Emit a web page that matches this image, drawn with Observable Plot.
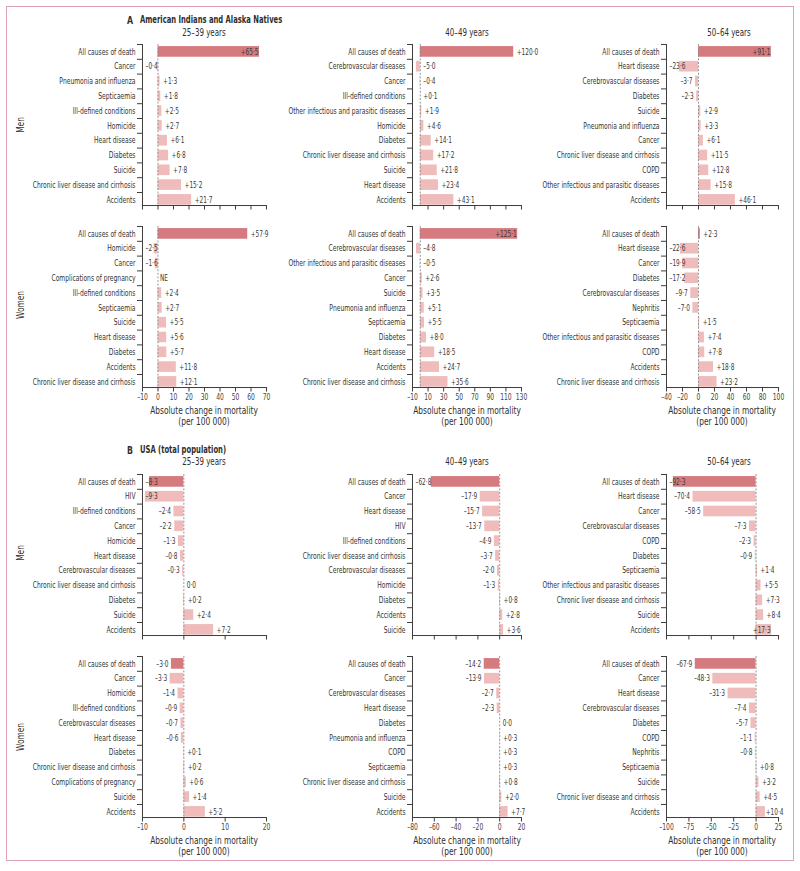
<!DOCTYPE html>
<html>
<head>
<meta charset="utf-8">
<script src="https://cdn.jsdelivr.net/npm/d3@7"></script>
<script src="https://cdn.jsdelivr.net/npm/@observablehq/plot@0.6"></script>
<style>
  html, body { margin: 0; padding: 0; background: #fff; }
  #root { position: relative; width: 800px; height: 871px; overflow: hidden; background: #fff; }
  .border { position: absolute; left: 6px; top: 6px; width: 788px; height: 855px; border: 1px solid #dca0b8; box-sizing: border-box; }
  .t { position: absolute; white-space: nowrap; color: #2f2f2f; line-height: 1; }
</style>
</head>
<body>
<div id="root"><div class="border"></div></div>
<script>
// ---------------- DATA ----------------
const sectionTitles = ["American Indians and Alaska Natives", "USA (total population)"];
const sectionLetters = ["A", "B"];
const ageGroups = ["25–39 years", "40–49 years", "50–64 years"];
const sexes = ["Men", "Women"];
const axisTitle = ["Absolute change in mortality", "(per 100 000)"];

// A: American Indians and Alaska Natives — Men
const aianMen2539Causes = ["All causes of death","Cancer","Pneumonia and influenza","Septicaemia","Ill-defined conditions","Homicide","Heart disease","Diabetes","Suicide","Chronic liver disease and cirrhosis","Accidents"];
const aianMen2539Values = [65.5,-0.4,1.3,1.8,2.5,2.7,6.1,6.8,7.8,15.2,21.7];
const aianMen4049Causes = ["All causes of death","Cerebrovascular diseases","Cancer","Ill-defined conditions","Other infectious and parasitic diseases","Homicide","Diabetes","Chronic liver disease and cirrhosis","Suicide","Heart disease","Accidents"];
const aianMen4049Values = [120.0,-5.0,-0.4,0.1,1.9,4.6,14.1,17.2,21.8,23.4,43.1];
const aianMen5064Causes = ["All causes of death","Heart disease","Cerebrovascular diseases","Diabetes","Suicide","Pneumonia and influenza","Cancer","Chronic liver disease and cirrhosis","COPD","Other infectious and parasitic diseases","Accidents"];
const aianMen5064Values = [91.1,-23.6,-3.7,-2.3,2.9,3.3,6.1,11.5,12.8,15.8,46.1];
// A — Women
const aianWomen2539Causes = ["All causes of death","Homicide","Cancer","Complications of pregnancy","Ill-defined conditions","Septicaemia","Suicide","Heart disease","Diabetes","Accidents","Chronic liver disease and cirrhosis"];
const aianWomen2539Values = [57.9,-2.5,-1.6,null,2.4,2.7,5.5,5.6,5.7,11.8,12.1];
const aianWomen4049Causes = ["All causes of death","Cerebrovascular diseases","Other infectious and parasitic diseases","Cancer","Suicide","Pneumonia and influenza","Septicaemia","Diabetes","Heart disease","Accidents","Chronic liver disease and cirrhosis"];
const aianWomen4049Values = [125.1,-4.8,-0.5,2.6,3.5,5.1,5.5,8.0,18.5,24.7,35.6];
const aianWomen5064Causes = ["All causes of death","Heart disease","Cancer","Diabetes","Cerebrovascular diseases","Nephritis","Septicaemia","Other infectious and parasitic diseases","COPD","Accidents","Chronic liver disease and cirrhosis"];
const aianWomen5064Values = [2.3,-22.6,-19.9,-17.2,-9.7,-7.0,1.5,7.4,7.8,18.8,23.2];

// B: USA (total population) — Men
const usaMen2539Causes = ["All causes of death","HIV","Ill-defined conditions","Cancer","Homicide","Heart disease","Cerebrovascular diseases","Chronic liver disease and cirrhosis","Diabetes","Suicide","Accidents"];
const usaMen2539Values = [-8.3,-9.3,-2.4,-2.2,-1.3,-0.8,-0.3,0.0,0.2,2.4,7.2];
const usaMen4049Causes = ["All causes of death","Cancer","Heart disease","HIV","Ill-defined conditions","Chronic liver disease and cirrhosis","Cerebrovascular diseases","Homicide","Diabetes","Accidents","Suicide"];
const usaMen4049Values = [-62.8,-17.9,-15.7,-13.7,-4.9,-3.7,-2.0,-1.3,0.8,2.8,3.6];
const usaMen5064Causes = ["All causes of death","Heart disease","Cancer","Cerebrovascular diseases","COPD","Diabetes","Septicaemia","Other infectious and parasitic diseases","Chronic liver disease and cirrhosis","Suicide","Accidents"];
const usaMen5064Values = [-92.3,-70.4,-58.5,-7.3,-2.3,-0.9,1.4,5.5,7.3,8.4,17.3];
// B — Women
const usaWomen2539Causes = ["All causes of death","Cancer","Homicide","Ill-defined conditions","Cerebrovascular diseases","Heart disease","Diabetes","Chronic liver disease and cirrhosis","Complications of pregnancy","Suicide","Accidents"];
const usaWomen2539Values = [-3.0,-3.3,-1.4,-0.9,-0.7,-0.6,0.1,0.2,0.6,1.4,5.2];
const usaWomen4049Causes = ["All causes of death","Cancer","Cerebrovascular diseases","Heart disease","Diabetes","Pneumonia and influenza","COPD","Septicaemia","Chronic liver disease and cirrhosis","Suicide","Accidents"];
const usaWomen4049Values = [-14.2,-13.9,-2.7,-2.3,0.0,0.3,0.3,0.3,0.8,2.0,7.7];
const usaWomen5064Causes = ["All causes of death","Cancer","Heart disease","Cerebrovascular diseases","Diabetes","COPD","Nephritis","Septicaemia","Suicide","Chronic liver disease and cirrhosis","Accidents"];
const usaWomen5064Values = [-67.9,-48.3,-31.3,-7.4,-5.7,-1.1,-0.8,0.8,3.2,4.5,10.4];

// x-axis ticks per column
const ticksAian2539 = [-10,0,10,20,30,40,50,60,70];
const ticksAian4049 = [-10,10,30,50,70,90,110,130];
const ticksAian5064 = [-40,-20,0,20,40,60,80,100];
const ticksUsa2539 = [-10,0,10,20];
const ticksUsa4049 = [-80,-60,-40,-20,0,20];
const ticksUsa5064 = [-100,-75,-50,-25,0,25];

// ---------------- STYLE / LAYOUT ----------------
const DARK = "#d57b7f", LIGHT = "#efbcbb", AXIS = "#3c3c3c", ZERO = "#8c8c8c";
const LABEL_SIZE = 8.2;
const root = document.getElementById("root");

function hasFont(name) {
  const ctx = document.createElement("canvas").getContext("2d");
  const s = "abcdefghijklmnopqrstuvwxyzABCDEFGHIJKLMNOP0123456789";
  let res = false;
  for (const fb of ["monospace", "serif"]) {
    ctx.font = `20px ${fb}`; const a = ctx.measureText(s).width;
    ctx.font = `20px "${name}", ${fb}`; const b = ctx.measureText(s).width;
    if (Math.abs(a - b) > 0.5) res = true;
  }
  return res;
}
const FONT_NAME = ["Liberation Sans Narrow", "DejaVu Sans Condensed", "Roboto Condensed", "Liberation Sans", "Arial", "DejaVu Sans"].find(hasFont) || "sans-serif";
const FONT = `"${FONT_NAME}", sans-serif`;
const measureCtx = document.createElement("canvas").getContext("2d");
const f = (() => {
  measureCtx.font = `8.5px ${FONT}`;
  const w = measureCtx.measureText("Chronic liver disease and cirrhosis").width;
  return Math.min(1, 103 / w);
})();
function labelWidth(s) {
  measureCtx.font = `${LABEL_SIZE}px ${FONT}`;
  return measureCtx.measureText(s).width * (f < 0.995 ? f : 1);
}

const COLS = [
  {left: 0,   mL: 142, right: 266, W: 280, sub: 204,   axc: 204,   limit: 290},
  {left: 272, mL: 140, right: 521, W: 263, sub: 466.5, axc: 466.5, limit: 552},
  {left: 530, mL: 136, right: 778, W: 260, sub: 729,   axc: 722,   limit: 783}
];
const ROWS = [
  {top: 44.3,  labeled: false},
  {top: 225.9, labeled: true},
  {top: 473.6, labeled: false},
  {top: 655.9, labeled: true}
];
const YMAX = 10.38;
const STEP = 14.8;
const PH = STEP * (YMAX + 0.5);

const fmtVal = v => v == null ? "NE" : v === 0 ? "0·0" : (v > 0 ? "+" : "–") + Math.abs(v).toFixed(1).replace(".", "·");
const fmtTick = d => d < 0 ? "–" + (-d) : String(d);

function makePanel(cats, vals, ticks, col, row) {
  const dom = [ticks[0], ticks[ticks.length - 1]];
  const mT = 6, mB = row.labeled ? 18 : 8;
  const plotW = col.right - col.left - col.mL;
  const ppu = plotW / (dom[1] - dom[0]);
  const plotLeft = col.mL, plotRight = col.mL + plotW;
  const limitPx = col.limit - col.left;
  const px = v => plotLeft + (v - dom[0]) * ppu;          // same mapping as the x scale
  const toData = p => dom[0] + (p - plotLeft) / ppu;

  const data = cats.map((c, i) => {
    const v = vals[i];
    const label = fmtVal(v);
    const w = labelWidth(label);
    let left;
    if (v == null || v === 0) left = px(0) + (v == null ? 2 : 3);
    else if (v > 0) {
      const room = plotRight - px(v);
      left = room < 7.5 ? px(v) - 1 - w : Math.min(px(v) + 3, limitPx - w);
    } else {
      const zeroRoom = px(0) - plotLeft;
      left = zeroRoom < 12 ? px(0) + 3 : Math.max(plotLeft + 3, px(v) - 3 - w);
    }
    return {c, i, v, label, lx: toData(left)};
  });
  const bars = data.filter(d => d.v != null);
  const svg = Plot.plot({
    width: col.W,
    height: mT + PH + mB,
    marginLeft: col.mL,
    marginRight: col.W - (col.right - col.left),
    marginTop: mT,
    marginBottom: mB,
    x: {domain: dom},
    y: {domain: [-0.5, YMAX], reverse: true},
    style: {
      background: "transparent", overflow: "visible", fontFamily: FONT, fontSize: "8.5px",
      color: "#333", position: "absolute", left: col.left + "px", top: (row.top - mT) + "px", maxWidth: "none"
    },
    marks: [
      Plot.rect(bars.filter(d => d.i > 0), {x1: 0, x2: "v", y1: d => d.i - 0.36, y2: d => d.i + 0.36, fill: LIGHT}),
      Plot.rect(bars.filter(d => d.i === 0), {x1: 0, x2: "v", y1: d => d.i - 0.36, y2: d => d.i + 0.36, fill: DARK}),
      Plot.ruleX([0], {stroke: ZERO, strokeWidth: 0.9, strokeDasharray: "2,1.6"}),
      Plot.ruleX([dom[0]], {stroke: AXIS, strokeWidth: 1}),
      Plot.ruleY([YMAX], {stroke: AXIS, strokeWidth: 1}),
      Plot.axisY({ticks: d3.range(-0.5, 10, 1), tickSize: 5, tickFormat: () => "", label: null, stroke: AXIS}),
      Plot.axisY({ticks: d3.range(0, 11), tickSize: 0, tickPadding: 7, tickFormat: i => cats[i], label: null, fill: "#333"}),
      Plot.axisX({ticks, tickSize: 4.5, tickPadding: 2, tickFormat: row.labeled ? fmtTick : () => "", label: null, stroke: AXIS, fill: "#444"}),
      Plot.text(data, {x: "lx", y: "i", text: "label", textAnchor: "start", fontSize: LABEL_SIZE, fill: "#3a3a3a"})
    ]
  });
  root.appendChild(svg);
  return svg;
}

function addText(txt, x, y, opt = {}) {
  const {size = 10, weight = "normal", anchor = "middle", rotate = false} = opt;
  const el = document.createElement("div");
  el.className = "t";
  el.textContent = txt;
  el.style.left = x + "px";
  el.style.top = y + "px";
  el.style.fontSize = size + "px";
  el.style.fontWeight = weight;
  el.style.fontFamily = FONT;
  if (anchor === "middle") {
    el.style.transformOrigin = "50% 50%";
    el.style.transform = `translate(-50%,-50%) ${rotate ? "rotate(-90deg) " : ""}scaleX(${f})`;
  } else {
    el.style.transformOrigin = "0 50%";
    el.style.transform = `translateY(-50%) scaleX(${f})`;
  }
  root.appendChild(el);
}

// ---------------- BUILD ----------------
const panels = [
  [aianMen2539Causes, aianMen2539Values, ticksAian2539, 0, 0],
  [aianMen4049Causes, aianMen4049Values, ticksAian4049, 1, 0],
  [aianMen5064Causes, aianMen5064Values, ticksAian5064, 2, 0],
  [aianWomen2539Causes, aianWomen2539Values, ticksAian2539, 0, 1],
  [aianWomen4049Causes, aianWomen4049Values, ticksAian4049, 1, 1],
  [aianWomen5064Causes, aianWomen5064Values, ticksAian5064, 2, 1],
  [usaMen2539Causes, usaMen2539Values, ticksUsa2539, 0, 2],
  [usaMen4049Causes, usaMen4049Values, ticksUsa4049, 1, 2],
  [usaMen5064Causes, usaMen5064Values, ticksUsa5064, 2, 2],
  [usaWomen2539Causes, usaWomen2539Values, ticksUsa2539, 0, 3],
  [usaWomen4049Causes, usaWomen4049Values, ticksUsa4049, 1, 3],
  [usaWomen5064Causes, usaWomen5064Values, ticksUsa5064, 2, 3]
];
for (const [c, v, t, ci, ri] of panels) makePanel(c, v, t, COLS[ci], ROWS[ri]);

// condense svg text to match the narrow typeface of the original
for (const t of root.querySelectorAll("svg text")) {
  const L = t.getComputedTextLength();
  if (L > 0 && f < 0.995) {
    t.setAttribute("textLength", (L * f).toFixed(2));
    t.setAttribute("lengthAdjust", "spacingAndGlyphs");
  }
}

// section titles
const sectionY = [20, 450];
sectionLetters.forEach((L, k) => {
  addText(L, 126.5, sectionY[k], {size: 11, weight: "bold", anchor: "start"});
  addText(sectionTitles[k], 140, sectionY[k], {size: 9.6, weight: "bold", anchor: "start"});
});
// age subtitles
const subY = [33, 462.3];
subY.forEach(y => ageGroups.forEach((g, ci) => addText(g, COLS[ci].sub, y, {size: 10})));
// sex labels
const sexY = [125, 305, 553, 737];
sexY.forEach((y, k) => addText(sexes[k % 2], 20, y, {size: 10.5, rotate: true}));
// axis titles
[ROWS[1], ROWS[3]].forEach(row => {
  const y1 = row.top + PH + 23;
  COLS.forEach(col => {
    addText(axisTitle[0], col.axc, y1, {size: 10.5});
    addText(axisTitle[1], col.axc, y1 + 11.5, {size: 10.5});
  });
});
</script>
</body>
</html>
